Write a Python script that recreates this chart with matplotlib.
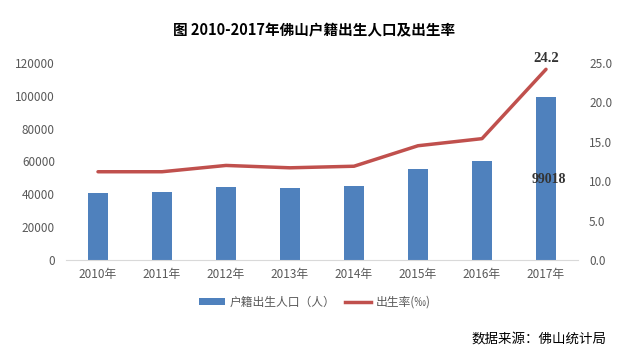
import matplotlib
matplotlib.use("Agg")
import matplotlib.pyplot as plt
from matplotlib.patches import Patch
from matplotlib.lines import Line2D

plt.rcParams['font.family'] = ['Noto Sans CJK SC', 'DejaVu Sans']

years = ["2010年", "2011年", "2012年", "2013年", "2014年", "2015年", "2016年", "2017年"]
births = [40600, 41400, 44700, 43900, 45100, 55400, 60300, 99018]
rate = [11.2, 11.2, 12.0, 11.7, 11.9, 14.5, 15.4, 24.2]

bar_color = "#4F81BD"
line_color = "#C0504D"
tick_color = "#595959"

fig = plt.figure(figsize=(6.29, 3.51), dpi=100)
ax = fig.add_axes([66/629, 1-260/351, (578-66)/629, (260-63)/351])
x = list(range(len(years)))
ax.bar(x, births, width=0.32, color=bar_color, zorder=2)
ax.set_xlim(-0.5, len(years)-0.5)
ax.set_ylim(0, 120000)
ax.set_yticks(range(0, 120001, 20000))
ax.set_xticks(x)
ax.set_xticklabels(years)
for s in ["top", "right", "left"]:
    ax.spines[s].set_visible(False)
ax.spines["bottom"].set_color("#D9D9D9")
ax.tick_params(axis="both", length=0, colors=tick_color, labelsize=8.5)
ax.tick_params(axis="x", pad=6)
ax.tick_params(axis="y", pad=8)

ax2 = ax.twinx()
ax2.plot(x, rate, color=line_color, lw=2.5, zorder=3, solid_capstyle="round")
ax2.set_ylim(0, 25)
ax2.set_yticks([0, 5, 10, 15, 20, 25])
ax2.set_yticklabels([f"{v:.1f}" for v in [0, 5, 10, 15, 20, 25]])
for s in ["top", "right", "left", "bottom"]:
    ax2.spines[s].set_visible(False)
ax2.tick_params(axis="y", length=0, colors=tick_color, labelsize=8.5, pad=8)

ax2.annotate(f"{rate[-1]}", (x[-1], rate[-1]), xytext=(0, 3), textcoords="offset points",
             ha="center", va="bottom", fontsize=10.5, fontweight="bold",
             family=["Liberation Serif", "DejaVu Serif"], color="#333333")
ax.text(x[-1] + 0.04, 49300, f"{births[-1]}", ha="center", va="center",
        fontsize=10, fontweight="bold",
        family=["Liberation Serif", "DejaVu Serif"], color="#333333")

fig.text(0.5, 1-30/351, "图 2010-2017年佛山户籍出生人口及出生率", ha="center", va="center",
         fontsize=10.5, fontweight="bold", color="#000000")

handles = [Patch(facecolor=bar_color, edgecolor="none"),
           Line2D([0], [0], color=line_color, lw=2.5)]
fig.legend(handles, ["户籍出生人口（人）", "出生率(‰)"], loc="center",
           bbox_to_anchor=(0.5, 1-302/351), ncol=2, frameon=False,
           fontsize=8.5, labelcolor=tick_color, handlelength=2.2,
           handleheight=0.6, columnspacing=0.8, handletextpad=0.4)

fig.text(1-22/629, 1-339/351, "数据来源：佛山统计局", ha="right", va="center",
         fontsize=9.7, color="#000000")

fig.savefig("out.png", dpi=100)
